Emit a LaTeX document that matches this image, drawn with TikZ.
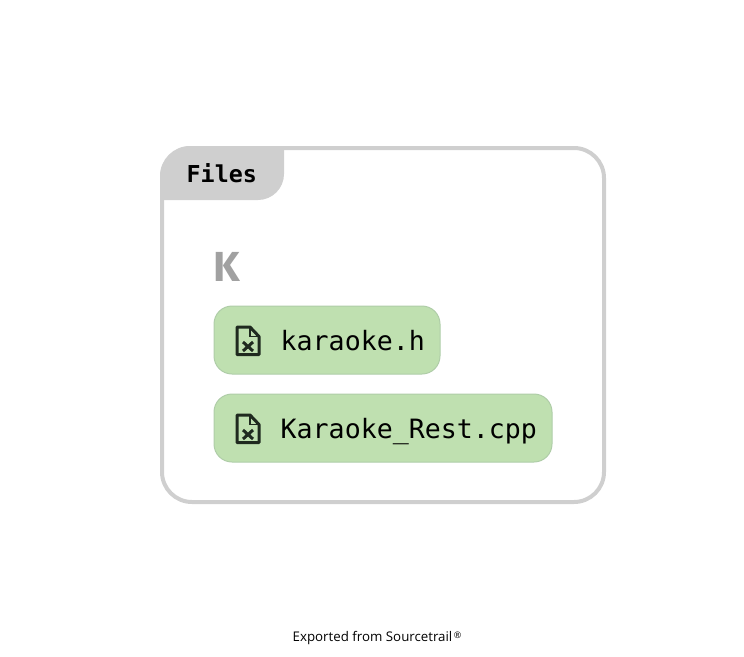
\documentclass[tikz,border=0pt]{standalone}
\usepackage{fontspec}
\setmainfont{Fira Sans}
\setmonofont{DejaVu Sans Mono}
\newfontfamily\footfont{Open Sans}
\usepackage{xcolor}
\definecolor{groupgrey}{HTML}{CFCFCF}
\definecolor{filegreen}{HTML}{BFE0B0}
\definecolor{fileedge}{HTML}{AFCDA8}
\definecolor{icondark}{HTML}{1F2A1F}
\tikzset{
	filebox/.style={draw=fileedge,fill=filegreen,line width=1pt,rounded corners=18pt,inner sep=0pt},
	filetext/.style={anchor=base west,inner sep=0pt,font=\fontsize{26.6}{30}\ttfamily},
	fileicon/.pic={
		\draw[icondark,line width=3pt,line join=round] (-11,14) -- (-11,-13.5) -- (2,-13.5) -- (11,-4) -- (11,14) -- cycle;
		\draw[icondark,line width=1.6pt] (2,-13.5) -- (2,-4) -- (11,-4);
		\draw[icondark,line width=3pt] (-5,1.5) -- (5,10.5) (5,1.5) -- (-5,10.5);
	}
}
\begin{document}
\begin{tikzpicture}[x=1pt,y=-1pt]
	\useasboundingbox (0,0) rectangle (744,656);
	\draw[groupgrey,line width=4pt,rounded corners=30pt] (162,148) rectangle (604,502);
	\fill[groupgrey] (160,200) -- (160,176) arc[start angle=180,end angle=90,x radius=30,y radius=-30] -- (284,146) -- (284,174) arc[start angle=0,end angle=-90,x radius=26,y radius=-26] -- cycle;
	\node (title) at (186.5,182.5) [anchor=base west,inner sep=0pt,font=\fontsize{23.3}{26}\ttfamily\bfseries] {Files};
	\node (letter) at (227,266.5) [inner sep=0pt,text=black!37,font=\fontsize{42}{46}\selectfont\bfseries] {K};
	\node (header) at (327,340) [filebox,minimum width=226pt,minimum height=68pt] {};
	\node (rest) at (383,428) [filebox,minimum width=338pt,minimum height=68pt] {};
	\pic at (248,340.5) {fileicon};
	\pic at (248,428.5) {fileicon};
	\node (headertext) at (280.5,350) [filetext] {karaoke.h};
	\node (resttext) at (280.5,438) [filetext] {Karaoke\_Rest.cpp};
	\node (export) at (377,638.5) [anchor=center,inner sep=0pt,font=\fontsize{13.3}{15}\footfont] {Exported from Sourcetrail\raisebox{3.5pt}{\fontsize{9}{9}\selectfont\,\textregistered}};
\end{tikzpicture}
\end{document}
